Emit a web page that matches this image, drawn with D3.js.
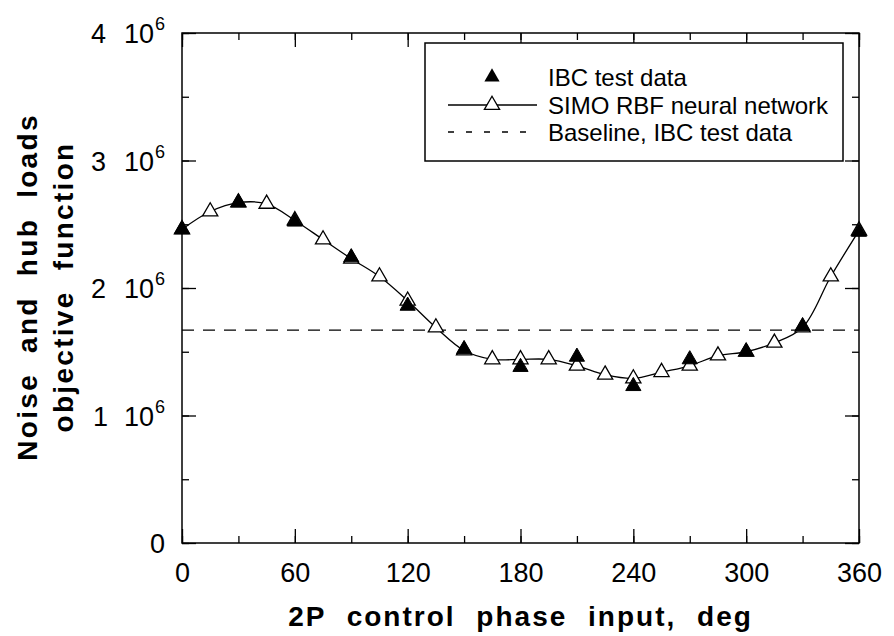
<!DOCTYPE html>
<html>
<head>
<meta charset="utf-8">
<script src="https://cdn.jsdelivr.net/npm/d3@7"></script>
<style>
  body { margin: 0; background: #fff; }
  text { font-family: "Liberation Sans", Arial, Helvetica, sans-serif; fill: #000; }
</style>
</head>
<body>
<div id="chart"></div>
<script>
// Phase Inputs (deg)
const testPhase = [0, 30, 60, 90, 120, 150, 180, 210, 240, 270, 300, 330, 360];
const netPhase = [0, 15, 30, 45, 60, 75, 90, 105, 120, 135, 150, 165, 180, 195, 210, 225, 240, 255, 270, 285, 300, 315, 330, 345, 360];

// Objective Function Values
const ibcTest = [2.46e6, 2.67e6, 2.52e6, 2.24e6, 1.86e6, 1.52e6, 1.38e6, 1.46e6, 1.23e6, 1.44e6, 1.50e6, 1.70e6, 2.44e6];
const rbfNet = [2.46e6, 2.60e6, 2.67e6, 2.66e6, 2.53e6, 2.38e6, 2.23e6, 2.09e6, 1.90e6, 1.69e6, 1.51e6, 1.44e6, 1.44e6,
                1.44e6, 1.39e6, 1.32e6, 1.29e6, 1.34e6, 1.39e6, 1.47e6, 1.50e6, 1.57e6, 1.69e6, 2.09e6, 2.45e6];
const baseline = 1.67e6;

// Axis Ticks & Legend Labels
const xTicks = [0, 60, 120, 180, 240, 300, 360];
const yTicks = [0, 1e6, 2e6, 3e6, 4e6];
const legendLabels = ["IBC test data", "SIMO RBF neural network", "Baseline, IBC test data"];

// Dimensions
let w = 894, h = 636;
let margin = { left: 182, right: 35, top: 33, bottom: 93 };

let svg = d3.select("#chart").append("svg").attr("width", w).attr("height", h);

let x = d3.scaleLinear().domain([0, 360]).range([margin.left, w - margin.right]);
let y = d3.scaleLinear().domain([0, 4e6]).range([h - margin.bottom, margin.top]);

let x0 = x(0), x1 = x(360), y0 = y(0), y1 = y(4e6);

// Axes (Ticks Pointing Inward)
function drawAxis(axis, tx, ty, withLabels) {
  let g = svg.append("g").attr("transform", "translate(" + tx + "," + ty + ")").call(axis);
  g.select(".domain").remove();
  g.selectAll("line").attr("stroke", "#000").attr("stroke-width", 1.3);
  if (!withLabels) g.selectAll("text").remove();
  return g;
}

let minorX = d3.range(0, 361, 30), minorY = d3.range(0, 4e6 + 1, 5e5);

// Bottom
let bottom = drawAxis(d3.axisBottom(x).tickValues(xTicks).tickSize(-14).tickPadding(20), 0, y0, true);
bottom.selectAll("text").attr("font-size", 27).attr("fill", "#000");
drawAxis(d3.axisBottom(x).tickValues(minorX).tickSize(-7).tickFormat(""), 0, y0, false);
// Top
drawAxis(d3.axisTop(x).tickValues(xTicks).tickSize(-14).tickFormat(""), 0, y1, false);
drawAxis(d3.axisTop(x).tickValues(minorX).tickSize(-7).tickFormat(""), 0, y1, false);
// Left
let left = drawAxis(d3.axisLeft(y).tickValues(yTicks).tickSize(-14).tickPadding(17).tickFormat(""), x0, 0, true);
drawAxis(d3.axisLeft(y).tickValues(minorY).tickSize(-7).tickFormat(""), x0, 0, false);
// Right
drawAxis(d3.axisRight(y).tickValues(yTicks).tickSize(-14).tickFormat(""), x1, 0, false);
drawAxis(d3.axisRight(y).tickValues(minorY).tickSize(-7).tickFormat(""), x1, 0, false);

// Y Tick Labels As "n 10^6"
left.selectAll(".tick text").each(function(d) {
  let t = d3.select(this).text(null).attr("font-size", 27).attr("fill", "#000").attr("dy", "0.36em");
  if (d == 0) { t.text("0"); return; }
  t.append("tspan").text(d / 1e6);
  t.append("tspan").attr("dx", 18).text("10");
  t.append("tspan").attr("dx", 1).attr("dy", -13).attr("font-size", 18).text("6");
});

// Plot Frame
svg.append("rect").attr("x", x0).attr("y", y1).attr("width", x1 - x0).attr("height", y0 - y1)
  .attr("fill", "none").attr("stroke", "#000").attr("stroke-width", 1.5);

// Baseline
svg.append("line").attr("x1", x0).attr("x2", x1).attr("y1", y(baseline)).attr("y2", y(baseline))
  .attr("stroke", "#000").attr("stroke-width", 1.3).attr("stroke-dasharray", "12,9");

// Neural Network Curve
let netData = netPhase.map((p, i) => [p, rbfNet[i]]);
let line = d3.line().x(d => x(d[0])).y(d => y(d[1])).curve(d3.curveCatmullRom);
svg.append("path").datum(netData).attr("d", line).attr("fill", "none").attr("stroke", "#000").attr("stroke-width", 1.3);

let tri = d3.symbol().type(d3.symbolTriangle).size(100);

svg.selectAll("path.net").data(netData).enter().append("path")
  .attr("class", "net").attr("d", tri)
  .attr("transform", d => "translate(" + x(d[0]) + "," + y(d[1]) + ")")
  .attr("fill", "#fff").attr("stroke", "#000").attr("stroke-width", 1.3);

// IBC Test Data
let testData = testPhase.map((p, i) => [p, ibcTest[i]]);
svg.selectAll("path.test").data(testData).enter().append("path")
  .attr("class", "test").attr("d", tri)
  .attr("transform", d => "translate(" + x(d[0]) + "," + y(d[1]) + ")")
  .attr("fill", "#000").attr("stroke", "#000").attr("stroke-width", 1);

// Legend
let lg = svg.append("g");
lg.append("rect").attr("x", 425).attr("y", 43).attr("width", 418).attr("height", 118)
  .attr("fill", "#fff").attr("stroke", "#000").attr("stroke-width", 1.5);
let rowY = [77, 105, 132];
lg.append("path").attr("d", tri).attr("transform", "translate(492," + rowY[0] + ")").attr("fill", "#000");
lg.append("line").attr("x1", 448).attr("x2", 537).attr("y1", rowY[1]).attr("y2", rowY[1]).attr("stroke", "#000").attr("stroke-width", 1.3);
lg.append("path").attr("d", tri).attr("transform", "translate(492," + rowY[1] + ")")
  .attr("fill", "#fff").attr("stroke", "#000").attr("stroke-width", 1.3);
lg.append("line").attr("x1", 448).attr("x2", 537).attr("y1", rowY[2]).attr("y2", rowY[2])
  .attr("stroke", "#000").attr("stroke-width", 1.3).attr("stroke-dasharray", "6,12");
lg.selectAll("text.lab").data(legendLabels).enter().append("text")
  .attr("class", "lab").attr("x", 548).attr("y", (d, i) => rowY[i]).attr("dy", "0.36em")
  .attr("font-size", 24).text(d => d);

// Axis Titles
svg.append("text").attr("x", (x0 + x1) / 2).attr("y", 626).attr("text-anchor", "middle")
  .attr("font-size", 28).attr("font-weight", "bold").attr("letter-spacing", 2).attr("word-spacing", 11)
  .text("2P control phase input, deg");

let yt = svg.append("g").attr("transform", "translate(0,287) rotate(-90)");
yt.append("text").attr("x", 0).attr("y", 37).attr("text-anchor", "middle")
  .attr("font-size", 28).attr("font-weight", "bold").attr("letter-spacing", 2.3).attr("word-spacing", 10)
  .text("Noise and hub loads");
yt.append("text").attr("x", 0).attr("y", 73).attr("text-anchor", "middle")
  .attr("font-size", 28).attr("font-weight", "bold").attr("letter-spacing", 2.3).attr("word-spacing", 10)
  .text("objective function");
</script>
</body>
</html>
